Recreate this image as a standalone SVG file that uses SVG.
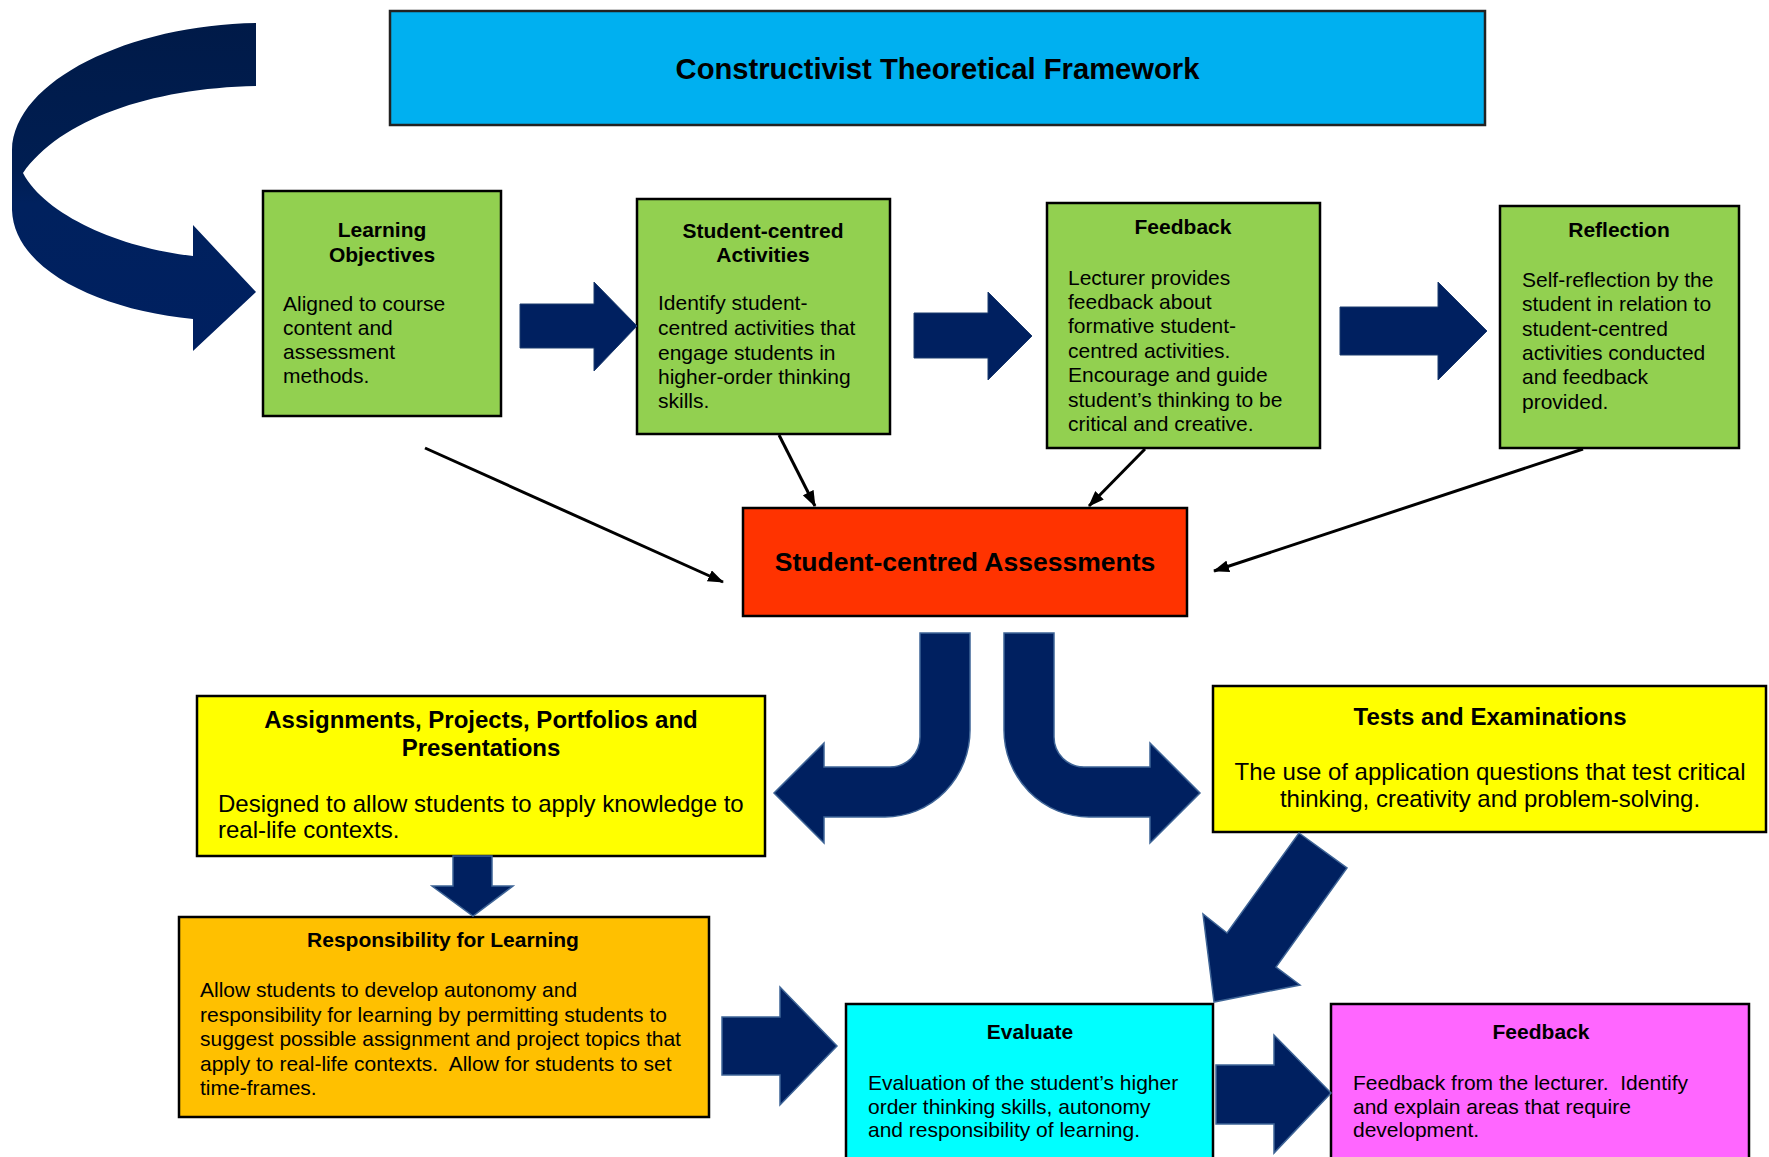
<svg xmlns="http://www.w3.org/2000/svg" width="1769" height="1157" viewBox="0 0 1769 1157">
  <style>
    text { font-family: "Liberation Sans", Arial, sans-serif; fill: #000; white-space: pre; }
    .box { stroke: #000; stroke-width: 2.5; }
    .h21 { font-size: 21px; font-weight: bold; text-anchor: middle; }
    .b21 { font-size: 21px; }
    .h24 { font-size: 24px; font-weight: bold; text-anchor: middle; }
    .b24 { font-size: 24px; }
    .blk { fill: #002060; stroke: #3E6496; stroke-width: 1.5; stroke-linejoin: miter; }
    .blk-top { fill: #002060; stroke: #1D3C6E; stroke-width: 1; }
    .link { fill: none; stroke: #000; stroke-width: 3; marker-end: url(#head); }
  </style>
  <defs>
    <marker id="head" viewBox="0 0 16 12" refX="15" refY="6" markerWidth="16" markerHeight="12" markerUnits="userSpaceOnUse" orient="auto">
      <path d="M0,0 L16,6 L0,12 Z" fill="#000"/>
    </marker>
    <linearGradient id="curl" x1="0" y1="0" x2="0" y2="1">
      <stop offset="0" stop-color="#001A48"/>
      <stop offset="0.45" stop-color="#001E52"/>
      <stop offset="0.55" stop-color="#00215E"/>
      <stop offset="1" stop-color="#002060"/>
    </linearGradient>
  </defs>

  <!-- title banner -->
  <g id="title">
    <rect x="390" y="11" width="1095" height="114" fill="#00B0F0" stroke="#222" stroke-width="2.5"/>
    <text x="937.5" y="79" font-size="29.2" font-weight="bold" text-anchor="middle">Constructivist Theoretical Framework</text>
  </g>

  <!-- top row -->
  <g id="learning-objectives">
    <rect class="box" x="263" y="191" width="238" height="225" fill="#92D050"/>
    <text class="h21" x="382" y="237">Learning</text>
    <text class="h21" x="382" y="262">Objectives</text>
    <text class="b21" x="283" y="311">Aligned to course</text>
    <text class="b21" x="283" y="335">content and</text>
    <text class="b21" x="283" y="359">assessment</text>
    <text class="b21" x="283" y="383">methods.</text>
  </g>

  <g id="student-centred-activities">
    <rect class="box" x="637" y="199" width="253" height="235" fill="#92D050"/>
    <text class="h21" x="763" y="238">Student-centred</text>
    <text class="h21" x="763" y="262">Activities</text>
    <text class="b21" x="658" y="310">Identify student-</text>
    <text class="b21" x="658" y="335">centred activities that</text>
    <text class="b21" x="658" y="360">engage students in</text>
    <text class="b21" x="658" y="384">higher-order thinking</text>
    <text class="b21" x="658" y="408">skills.</text>
  </g>

  <g id="feedback-top">
    <rect class="box" x="1047" y="203" width="273" height="245" fill="#92D050"/>
    <text class="h21" x="1183" y="234">Feedback</text>
    <text class="b21" x="1068" y="285">Lecturer provides</text>
    <text class="b21" x="1068" y="309">feedback about</text>
    <text class="b21" x="1068" y="333">formative student-</text>
    <text class="b21" x="1068" y="358">centred activities.</text>
    <text class="b21" x="1068" y="382">Encourage and guide</text>
    <text class="b21" x="1068" y="407">student’s thinking to be</text>
    <text class="b21" x="1068" y="431">critical and creative.</text>
  </g>

  <g id="reflection">
    <rect class="box" x="1500" y="206" width="239" height="242" fill="#92D050"/>
    <text class="h21" x="1619" y="237">Reflection</text>
    <text class="b21" x="1522" y="287">Self-reflection by the</text>
    <text class="b21" x="1522" y="311">student in relation to</text>
    <text class="b21" x="1522" y="336">student-centred</text>
    <text class="b21" x="1522" y="360">activities conducted</text>
    <text class="b21" x="1522" y="384">and feedback</text>
    <text class="b21" x="1522" y="409">provided.</text>
  </g>

  <!-- hub -->
  <g id="student-centred-assessments">
    <rect class="box" x="743" y="508" width="444" height="108" fill="#FF3300"/>
    <text x="965" y="571" font-size="26.5" font-weight="bold" text-anchor="middle">Student-centred Assessments</text>
  </g>

  <!-- assessment types -->
  <g id="assignments">
    <rect class="box" x="197" y="696" width="568" height="160" fill="#FFFF00"/>
    <text class="h24" x="481" y="728">Assignments, Projects, Portfolios and</text>
    <text class="h24" x="481" y="756">Presentations</text>
    <text class="b24" x="218" y="812">Designed to allow students to apply knowledge to</text>
    <text class="b24" x="218" y="838">real-life contexts.</text>
  </g>

  <g id="tests">
    <rect class="box" x="1213" y="686" width="553" height="146" fill="#FFFF00"/>
    <text class="h24" x="1490" y="725">Tests and Examinations</text>
    <text class="b24" x="1490" y="780" text-anchor="middle">The use of application questions that test critical</text>
    <text class="b24" x="1490" y="807" text-anchor="middle">thinking, creativity and problem-solving.</text>
  </g>

  <!-- bottom row -->
  <g id="responsibility">
    <rect class="box" x="179" y="917" width="530" height="200" fill="#FFC000"/>
    <text class="h21" x="443" y="947">Responsibility for Learning</text>
    <text class="b21" x="200" y="997">Allow students to develop autonomy and</text>
    <text class="b21" x="200" y="1022">responsibility for learning by permitting students to</text>
    <text class="b21" x="200" y="1046">suggest possible assignment and project topics that</text>
    <text class="b21" x="200" y="1071">apply to real-life contexts.  Allow for students to set</text>
    <text class="b21" x="200" y="1095">time-frames.</text>
  </g>

  <g id="evaluate">
    <rect class="box" x="846" y="1004" width="367" height="170" fill="#00FFFF"/>
    <text class="h21" x="1030" y="1039">Evaluate</text>
    <text class="b21" x="868" y="1090">Evaluation of the student’s higher</text>
    <text class="b21" x="868" y="1114">order thinking skills, autonomy</text>
    <text class="b21" x="868" y="1137">and responsibility of learning.</text>
  </g>

  <g id="feedback-bottom">
    <rect class="box" x="1331" y="1004" width="418" height="170" fill="#FF66FF"/>
    <text class="h21" x="1541" y="1039">Feedback</text>
    <text class="b21" x="1353" y="1090">Feedback from the lecturer.  Identify</text>
    <text class="b21" x="1353" y="1114">and explain areas that require</text>
    <text class="b21" x="1353" y="1137">development.</text>
  </g>

  <!-- connectors -->
  <g id="connectors">
    <!-- loop back into the first stage -->
    <path fill="url(#curl)" d="M256,23 L256,86 C150,88 60,120 23,173 C45,215 120,248 193,256 L193,225 L256,292 L193,351 L193,319 C100,310 14,270 12,210 L12,150 C14,80 130,25 256,23 Z"/>

    <!-- stage to stage -->
    <path class="blk-top" d="M520,304 L594,304 L594,282 L637,326 L594,371 L594,348 L520,348 Z"/>
    <path class="blk-top" d="M914,313 L988,313 L988,292 L1032,336 L988,380 L988,358 L914,358 Z"/>
    <path class="blk-top" d="M1340,307 L1438,307 L1438,282 L1487,331 L1438,380 L1438,355 L1340,355 Z"/>

    <!-- stages feeding the assessments -->
    <line class="link" x1="425" y1="448" x2="723" y2="582"/>
    <line class="link" x1="779" y1="435" x2="815" y2="506"/>
    <line class="link" x1="1145" y1="449" x2="1089" y2="506"/>
    <line class="link" x1="1583" y1="449" x2="1214" y2="571"/>

    <!-- split into the two assessment types -->
    <path class="blk" d="M970,633 L920,633 L920,737 A30,30 0 0 1 890,767 L824,767 L824,743 L774,793 L824,843 L824,817 L885,817 A85,87 0 0 0 970,730 Z"/>
    <path class="blk" d="M1004,633 L1054,633 L1054,737 A30,30 0 0 0 1084,767 L1150,767 L1150,743 L1200,793 L1150,843 L1150,817 L1089,817 A85,87 0 0 1 1004,730 Z"/>

    <!-- assignments down to responsibility -->
    <path class="blk" d="M453,856 L492,856 L492,886 L513,886 L473,916 L432,886 L453,886 Z"/>

    <!-- tests down to evaluate -->
    <path class="blk" d="M1299,833 L1347,868 L1276,967 L1300,985 L1214,1002 L1203,914 L1227,933 Z"/>

    <!-- responsibility to evaluate -->
    <path class="blk" d="M722,1017 L780,1017 L780,987 L837,1046 L780,1105 L780,1075 L722,1075 Z"/>

    <!-- evaluate to feedback -->
    <path class="blk" d="M1216,1065 L1274,1065 L1274,1035 L1331,1093 L1274,1153 L1274,1124 L1216,1124 Z"/>
  </g>
</svg>
